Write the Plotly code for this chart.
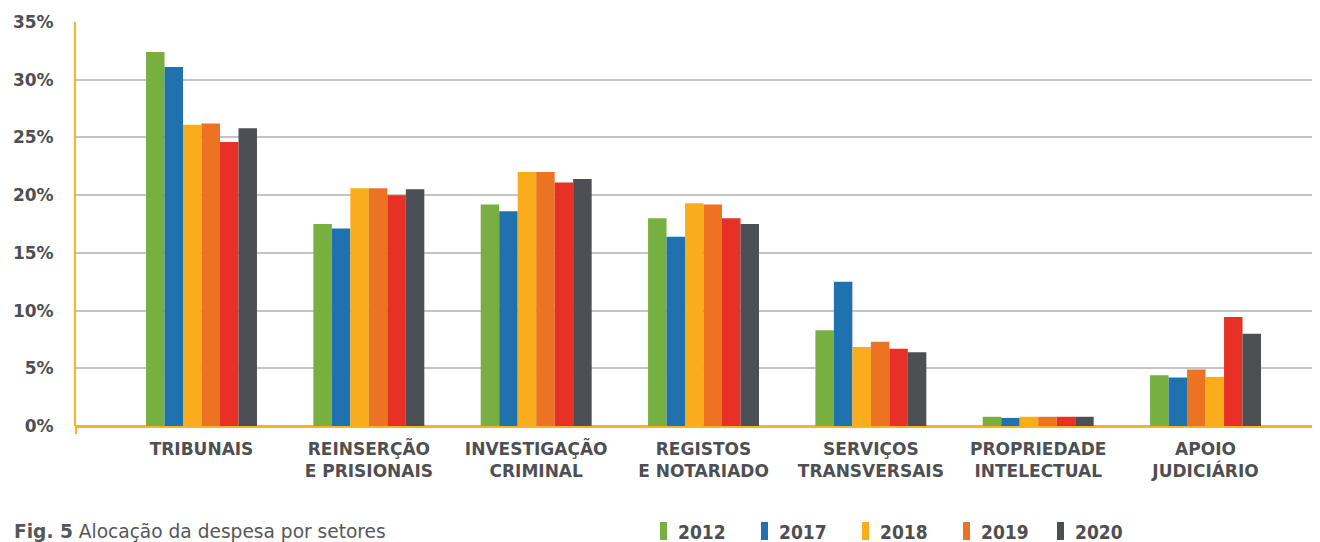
import plotly.graph_objects as go

categories = ["TRIBUNAIS", "REINSERÇÃO<br>E PRISIONAIS", "INVESTIGAÇÃO<br>CRIMINAL",
              "REGISTOS<br>E NOTARIADO", "SERVIÇOS<br>TRANSVERSAIS",
              "PROPRIEDADE<br>INTELECTUAL", "APOIO<br>JUDICIÁRIO"]
years = ["2012", "2017", "2018", "2019", "2020"]

v2012 = [32.4, 17.5, 19.2, 18.0, 8.3, 0.8, 4.4]
v2017 = [31.1, 17.1, 18.6, 16.4, 12.5, 0.7, 4.2]
v2018 = [26.1, 20.6, 22.0, 19.3, 6.85, 0.8, 4.25]
v2019 = [26.2, 20.6, 22.0, 19.2, 7.3, 0.8, 4.9]
v2020a = [24.6, 20.0, 21.1, 18.0, 6.7, 0.8, 9.45]  # red bar (5th position)
v2020 = [25.8, 20.5, 21.4, 17.5, 6.4, 0.8, 8.0]

GREEN, BLUE, YELLOW, ORANGE, RED, DARK = "#77B041", "#2072AF", "#F9AD1A", "#EB7322", "#E83126", "#4C4F53"
AXIS_ORANGE = "#F9B324"
TXT = "#4D4F52"

# In the source, the 3rd and 4th bars of "APOIO JUDICIÁRIO" appear in swapped colours
c3 = [YELLOW] * 6 + [ORANGE]
c4 = [ORANGE] * 6 + [YELLOW]
v3 = v2018[:6] + [v2019[6]]
v4 = v2019[:6] + [v2018[6]]

series = [
    ("2012", v2012, GREEN),
    ("2017", v2017, BLUE),
    ("2018", v3, c3),
    ("2019", v4, c4),
    ("2020 r", v2020a, RED),
    ("2020", v2020, DARK),
]

fig = go.Figure()
for name, vals, col in series:
    fig.add_trace(go.Bar(x=categories, y=vals, name=name, marker=dict(color=col, line=dict(width=0)),
                         showlegend=False))

OFF = 8  # page body margin
W, H = 1320 - OFF, 542 - OFF
L, R, T, B = 76 - OFF, 0, 22 - OFF, 542 - 426
pw, ph = W - L - R, H - T - B

def px(x):
    return (x - OFF - L) / pw

def py(y):
    return (H - B - (y - OFF)) / ph

shapes = []
annotations = []
legend_items = [("2012", GREEN, 660), ("2017", BLUE, 761), ("2018", YELLOW, 862),
                ("2019", ORANGE, 963), ("2020", DARK, 1057)]
for lab, col, x0 in legend_items:
    shapes.append(dict(type="rect", xref="paper", yref="paper", x0=px(x0), x1=px(x0 + 7),
                       y0=py(540), y1=py(522), fillcolor=col, line=dict(width=0)))
    annotations.append(dict(xref="paper", yref="paper", x=px(x0 + 16), y=py(532), text=lab,
                            showarrow=False, xanchor="left", yanchor="middle",
                            font=dict(family="DejaVu Sans Condensed", size=19,
                                      color=TXT, weight="bold")))
# axis line stub below the baseline
shapes.append(dict(type="line", xref="paper", yref="paper", x0=0, x1=0, y0=py(426), y1=py(434),
                   line=dict(color=AXIS_ORANGE, width=2)))
annotations.append(dict(xref="paper", yref="paper", x=px(12), y=py(531),
                        text="<b>Fig. 5</b> Alocação da despesa por setores",
                        showarrow=False, xanchor="left", yanchor="middle",
                        font=dict(family="DejaVu Sans", size=18.6, color="#555759")))

fig.update_layout(
    width=W, height=H,
    margin=dict(l=L, r=R, t=T, b=B, pad=0),
    paper_bgcolor="white", plot_bgcolor="white",
    barmode="group", bargap=0.337, bargroupgap=0,
    shapes=shapes, annotations=annotations,
    xaxis=dict(type="category", range=[-0.75, 6.684], showgrid=False, showline=False,
               ticks="", tickfont=dict(family="DejaVu Sans", size=17, color=TXT, weight="bold"),
               ticklabelstandoff=11, zeroline=False),
    yaxis=dict(range=[0, 35], tickvals=[0, 5, 10, 15, 20, 25, 30, 35],
               ticktext=["0%", "5%", "10%", "15%", "20%", "25%", "30%", "35%"],
               showgrid=True, gridcolor="#C4C4C4", gridwidth=2,
               showline=True, linecolor=AXIS_ORANGE, linewidth=2,
               zeroline=True, zerolinecolor=AXIS_ORANGE, zerolinewidth=3,
               ticks="", ticklabelstandoff=17,
               tickfont=dict(family="DejaVu Sans", size=17, color=TXT, weight="bold")),
)

fig.write_html("out.html")
